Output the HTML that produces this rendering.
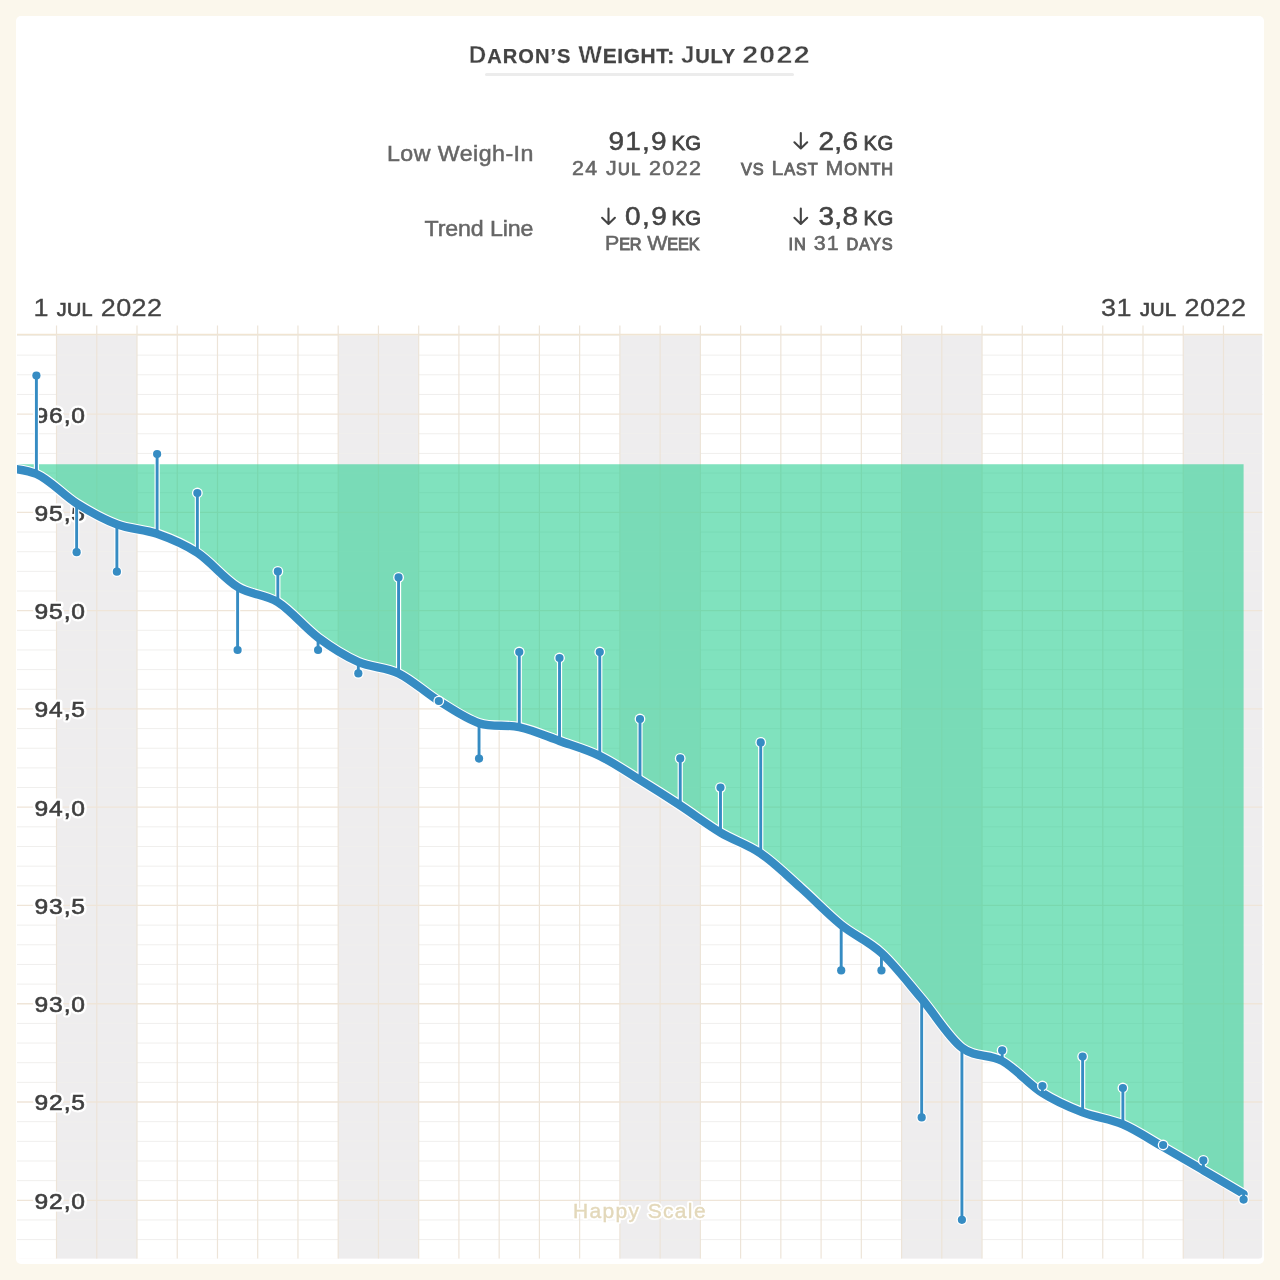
<!DOCTYPE html>
<html lang="en">
<head>
<meta charset="utf-8">
<title>Daron's Weight: July 2022</title>
<style>
html,body{margin:0;padding:0;}
body{width:1280px;height:1280px;background:#fbf7ec;position:relative;overflow:hidden;font-family:"Liberation Sans",sans-serif;color:#444;}
.card{position:absolute;left:16px;top:16px;width:1248px;height:1248px;background:#fff;border-radius:5px;}
svg{position:absolute;left:0;top:0;will-change:transform;}
.uline{position:absolute;left:485px;top:72.5px;width:309px;height:3px;background:#ececec;border-radius:2px;}
</style>
</head>
<body>
<div class="card"></div>

<div class="uline"></div>

<svg width="1280" height="1280" viewBox="0 0 1280 1280" font-family="'Liberation Sans', sans-serif">
<defs><clipPath id="cc"><rect x="17" y="320" width="1245.5" height="938.8" rx="4"/></clipPath></defs>
<g clip-path="url(#cc)">
<rect x="56.52" y="334.50" width="80.48" height="924.30" fill="#eeedee"/>
<rect x="338.20" y="334.50" width="80.48" height="924.30" fill="#eeedee"/>
<rect x="619.88" y="334.50" width="80.48" height="924.30" fill="#eeedee"/>
<rect x="901.56" y="334.50" width="80.48" height="924.30" fill="#eeedee"/>
<rect x="1183.24" y="334.50" width="79.26" height="924.30" fill="#eeedee"/>
<line x1="17.00" x2="1262.50" y1="335.48" y2="335.48" stroke="#f0efed" stroke-width="1"/>
<line x1="17.00" x2="1262.50" y1="355.14" y2="355.14" stroke="#f0efed" stroke-width="1"/>
<line x1="17.00" x2="1262.50" y1="374.79" y2="374.79" stroke="#f0efed" stroke-width="1"/>
<line x1="17.00" x2="1262.50" y1="394.45" y2="394.45" stroke="#f0efed" stroke-width="1"/>
<line x1="17.00" x2="1262.50" y1="414.10" y2="414.10" stroke="#efe5d8" stroke-width="1.3"/>
<line x1="17.00" x2="1262.50" y1="433.75" y2="433.75" stroke="#f0efed" stroke-width="1"/>
<line x1="17.00" x2="1262.50" y1="453.41" y2="453.41" stroke="#f0efed" stroke-width="1"/>
<line x1="17.00" x2="1262.50" y1="473.06" y2="473.06" stroke="#f0efed" stroke-width="1"/>
<line x1="17.00" x2="1262.50" y1="492.72" y2="492.72" stroke="#f0efed" stroke-width="1"/>
<line x1="17.00" x2="1262.50" y1="512.37" y2="512.37" stroke="#efe5d8" stroke-width="1.3"/>
<line x1="17.00" x2="1262.50" y1="532.03" y2="532.03" stroke="#f0efed" stroke-width="1"/>
<line x1="17.00" x2="1262.50" y1="551.69" y2="551.69" stroke="#f0efed" stroke-width="1"/>
<line x1="17.00" x2="1262.50" y1="571.34" y2="571.34" stroke="#f0efed" stroke-width="1"/>
<line x1="17.00" x2="1262.50" y1="591.00" y2="591.00" stroke="#f0efed" stroke-width="1"/>
<line x1="17.00" x2="1262.50" y1="610.65" y2="610.65" stroke="#efe5d8" stroke-width="1.3"/>
<line x1="17.00" x2="1262.50" y1="630.30" y2="630.30" stroke="#f0efed" stroke-width="1"/>
<line x1="17.00" x2="1262.50" y1="649.96" y2="649.96" stroke="#f0efed" stroke-width="1"/>
<line x1="17.00" x2="1262.50" y1="669.61" y2="669.61" stroke="#f0efed" stroke-width="1"/>
<line x1="17.00" x2="1262.50" y1="689.27" y2="689.27" stroke="#f0efed" stroke-width="1"/>
<line x1="17.00" x2="1262.50" y1="708.92" y2="708.92" stroke="#efe5d8" stroke-width="1.3"/>
<line x1="17.00" x2="1262.50" y1="728.58" y2="728.58" stroke="#f0efed" stroke-width="1"/>
<line x1="17.00" x2="1262.50" y1="748.24" y2="748.24" stroke="#f0efed" stroke-width="1"/>
<line x1="17.00" x2="1262.50" y1="767.89" y2="767.89" stroke="#f0efed" stroke-width="1"/>
<line x1="17.00" x2="1262.50" y1="787.55" y2="787.55" stroke="#f0efed" stroke-width="1"/>
<line x1="17.00" x2="1262.50" y1="807.20" y2="807.20" stroke="#efe5d8" stroke-width="1.3"/>
<line x1="17.00" x2="1262.50" y1="826.85" y2="826.85" stroke="#f0efed" stroke-width="1"/>
<line x1="17.00" x2="1262.50" y1="846.51" y2="846.51" stroke="#f0efed" stroke-width="1"/>
<line x1="17.00" x2="1262.50" y1="866.16" y2="866.16" stroke="#f0efed" stroke-width="1"/>
<line x1="17.00" x2="1262.50" y1="885.82" y2="885.82" stroke="#f0efed" stroke-width="1"/>
<line x1="17.00" x2="1262.50" y1="905.47" y2="905.47" stroke="#efe5d8" stroke-width="1.3"/>
<line x1="17.00" x2="1262.50" y1="925.13" y2="925.13" stroke="#f0efed" stroke-width="1"/>
<line x1="17.00" x2="1262.50" y1="944.79" y2="944.79" stroke="#f0efed" stroke-width="1"/>
<line x1="17.00" x2="1262.50" y1="964.44" y2="964.44" stroke="#f0efed" stroke-width="1"/>
<line x1="17.00" x2="1262.50" y1="984.10" y2="984.10" stroke="#f0efed" stroke-width="1"/>
<line x1="17.00" x2="1262.50" y1="1003.75" y2="1003.75" stroke="#efe5d8" stroke-width="1.3"/>
<line x1="17.00" x2="1262.50" y1="1023.40" y2="1023.40" stroke="#f0efed" stroke-width="1"/>
<line x1="17.00" x2="1262.50" y1="1043.06" y2="1043.06" stroke="#f0efed" stroke-width="1"/>
<line x1="17.00" x2="1262.50" y1="1062.71" y2="1062.71" stroke="#f0efed" stroke-width="1"/>
<line x1="17.00" x2="1262.50" y1="1082.37" y2="1082.37" stroke="#f0efed" stroke-width="1"/>
<line x1="17.00" x2="1262.50" y1="1102.02" y2="1102.02" stroke="#efe5d8" stroke-width="1.3"/>
<line x1="17.00" x2="1262.50" y1="1121.68" y2="1121.68" stroke="#f0efed" stroke-width="1"/>
<line x1="17.00" x2="1262.50" y1="1141.34" y2="1141.34" stroke="#f0efed" stroke-width="1"/>
<line x1="17.00" x2="1262.50" y1="1160.99" y2="1160.99" stroke="#f0efed" stroke-width="1"/>
<line x1="17.00" x2="1262.50" y1="1180.65" y2="1180.65" stroke="#f0efed" stroke-width="1"/>
<line x1="17.00" x2="1262.50" y1="1200.30" y2="1200.30" stroke="#efe5d8" stroke-width="1.3"/>
<line x1="17.00" x2="1262.50" y1="1219.95" y2="1219.95" stroke="#f0efed" stroke-width="1"/>
<line x1="17.00" x2="1262.50" y1="1239.61" y2="1239.61" stroke="#f0efed" stroke-width="1"/>
<line x1="17.00" x2="1262.50" y1="1259.26" y2="1259.26" stroke="#f0efed" stroke-width="1"/>
<line x1="17.00" x2="1262.50" y1="334.50" y2="334.50" stroke="#f1e5d2" stroke-width="1.4"/>
<line x1="56.52" x2="56.52" y1="325.50" y2="1258.80" stroke="#ede4d8" stroke-width="1.2"/>
<line x1="96.76" x2="96.76" y1="325.50" y2="1258.80" stroke="#ede4d8" stroke-width="1.2"/>
<line x1="137.00" x2="137.00" y1="325.50" y2="1258.80" stroke="#ede4d8" stroke-width="1.2"/>
<line x1="177.24" x2="177.24" y1="325.50" y2="1258.80" stroke="#ede4d8" stroke-width="1.2"/>
<line x1="217.48" x2="217.48" y1="325.50" y2="1258.80" stroke="#ede4d8" stroke-width="1.2"/>
<line x1="257.72" x2="257.72" y1="325.50" y2="1258.80" stroke="#ede4d8" stroke-width="1.2"/>
<line x1="297.96" x2="297.96" y1="325.50" y2="1258.80" stroke="#ede4d8" stroke-width="1.2"/>
<line x1="338.20" x2="338.20" y1="325.50" y2="1258.80" stroke="#ede4d8" stroke-width="1.2"/>
<line x1="378.44" x2="378.44" y1="325.50" y2="1258.80" stroke="#ede4d8" stroke-width="1.2"/>
<line x1="418.68" x2="418.68" y1="325.50" y2="1258.80" stroke="#ede4d8" stroke-width="1.2"/>
<line x1="458.92" x2="458.92" y1="325.50" y2="1258.80" stroke="#ede4d8" stroke-width="1.2"/>
<line x1="499.16" x2="499.16" y1="325.50" y2="1258.80" stroke="#ede4d8" stroke-width="1.2"/>
<line x1="539.40" x2="539.40" y1="325.50" y2="1258.80" stroke="#ede4d8" stroke-width="1.2"/>
<line x1="579.64" x2="579.64" y1="325.50" y2="1258.80" stroke="#ede4d8" stroke-width="1.2"/>
<line x1="619.88" x2="619.88" y1="325.50" y2="1258.80" stroke="#ede4d8" stroke-width="1.2"/>
<line x1="660.12" x2="660.12" y1="325.50" y2="1258.80" stroke="#ede4d8" stroke-width="1.2"/>
<line x1="700.36" x2="700.36" y1="325.50" y2="1258.80" stroke="#ede4d8" stroke-width="1.2"/>
<line x1="740.60" x2="740.60" y1="325.50" y2="1258.80" stroke="#ede4d8" stroke-width="1.2"/>
<line x1="780.84" x2="780.84" y1="325.50" y2="1258.80" stroke="#ede4d8" stroke-width="1.2"/>
<line x1="821.08" x2="821.08" y1="325.50" y2="1258.80" stroke="#ede4d8" stroke-width="1.2"/>
<line x1="861.32" x2="861.32" y1="325.50" y2="1258.80" stroke="#ede4d8" stroke-width="1.2"/>
<line x1="901.56" x2="901.56" y1="325.50" y2="1258.80" stroke="#ede4d8" stroke-width="1.2"/>
<line x1="941.80" x2="941.80" y1="325.50" y2="1258.80" stroke="#ede4d8" stroke-width="1.2"/>
<line x1="982.04" x2="982.04" y1="325.50" y2="1258.80" stroke="#ede4d8" stroke-width="1.2"/>
<line x1="1022.28" x2="1022.28" y1="325.50" y2="1258.80" stroke="#ede4d8" stroke-width="1.2"/>
<line x1="1062.52" x2="1062.52" y1="325.50" y2="1258.80" stroke="#ede4d8" stroke-width="1.2"/>
<line x1="1102.76" x2="1102.76" y1="325.50" y2="1258.80" stroke="#ede4d8" stroke-width="1.2"/>
<line x1="1143.00" x2="1143.00" y1="325.50" y2="1258.80" stroke="#ede4d8" stroke-width="1.2"/>
<line x1="1183.24" x2="1183.24" y1="325.50" y2="1258.80" stroke="#ede4d8" stroke-width="1.2"/>
<line x1="1223.48" x2="1223.48" y1="325.50" y2="1258.80" stroke="#ede4d8" stroke-width="1.2"/>
</g>
<g id="labels">
<text class="h" transform="translate(573.00 1218.30) scale(1.040 1)" font-size="20.20" letter-spacing="1.30" fill="#fff" stroke="#fff" stroke-width="4" stroke-linejoin="round">Happy Scale</text>
<text id="wm" transform="translate(573.00 1218.30) scale(1.040 1)" font-size="20.20" letter-spacing="1.30" stroke="#e3d8ba" stroke-width="0.4" fill="#e3d8ba">Happy Scale</text>
<text class="h" transform="translate(34.60 422.50) scale(1.120 1)" font-size="22.00" letter-spacing="0.73" fill="#fff" stroke="#fff" stroke-width="5" stroke-linejoin="round">96,0</text>
<text id="y0" transform="translate(34.60 422.50) scale(1.120 1)" font-size="22.00" letter-spacing="0.73" stroke="#3f3f3f" stroke-width="0.6" fill="#3f3f3f">96,0</text>
<text class="h" transform="translate(34.60 520.77) scale(1.120 1)" font-size="22.00" letter-spacing="0.73" fill="#fff" stroke="#fff" stroke-width="5" stroke-linejoin="round">95,5</text>
<text id="y1" transform="translate(34.60 520.77) scale(1.120 1)" font-size="22.00" letter-spacing="0.73" stroke="#3f3f3f" stroke-width="0.6" fill="#3f3f3f">95,5</text>
<text class="h" transform="translate(34.60 619.05) scale(1.120 1)" font-size="22.00" letter-spacing="0.73" fill="#fff" stroke="#fff" stroke-width="5" stroke-linejoin="round">95,0</text>
<text id="y2" transform="translate(34.60 619.05) scale(1.120 1)" font-size="22.00" letter-spacing="0.73" stroke="#3f3f3f" stroke-width="0.6" fill="#3f3f3f">95,0</text>
<text class="h" transform="translate(34.60 717.32) scale(1.120 1)" font-size="22.00" letter-spacing="0.73" fill="#fff" stroke="#fff" stroke-width="5" stroke-linejoin="round">94,5</text>
<text id="y3" transform="translate(34.60 717.32) scale(1.120 1)" font-size="22.00" letter-spacing="0.73" stroke="#3f3f3f" stroke-width="0.6" fill="#3f3f3f">94,5</text>
<text class="h" transform="translate(34.60 815.60) scale(1.120 1)" font-size="22.00" letter-spacing="0.73" fill="#fff" stroke="#fff" stroke-width="5" stroke-linejoin="round">94,0</text>
<text id="y4" transform="translate(34.60 815.60) scale(1.120 1)" font-size="22.00" letter-spacing="0.73" stroke="#3f3f3f" stroke-width="0.6" fill="#3f3f3f">94,0</text>
<text class="h" transform="translate(34.60 913.87) scale(1.120 1)" font-size="22.00" letter-spacing="0.73" fill="#fff" stroke="#fff" stroke-width="5" stroke-linejoin="round">93,5</text>
<text id="y5" transform="translate(34.60 913.87) scale(1.120 1)" font-size="22.00" letter-spacing="0.73" stroke="#3f3f3f" stroke-width="0.6" fill="#3f3f3f">93,5</text>
<text class="h" transform="translate(34.60 1012.15) scale(1.120 1)" font-size="22.00" letter-spacing="0.73" fill="#fff" stroke="#fff" stroke-width="5" stroke-linejoin="round">93,0</text>
<text id="y6" transform="translate(34.60 1012.15) scale(1.120 1)" font-size="22.00" letter-spacing="0.73" stroke="#3f3f3f" stroke-width="0.6" fill="#3f3f3f">93,0</text>
<text class="h" transform="translate(34.60 1110.42) scale(1.120 1)" font-size="22.00" letter-spacing="0.73" fill="#fff" stroke="#fff" stroke-width="5" stroke-linejoin="round">92,5</text>
<text id="y7" transform="translate(34.60 1110.42) scale(1.120 1)" font-size="22.00" letter-spacing="0.73" stroke="#3f3f3f" stroke-width="0.6" fill="#3f3f3f">92,5</text>
<text class="h" transform="translate(34.60 1208.70) scale(1.120 1)" font-size="22.00" letter-spacing="0.73" fill="#fff" stroke="#fff" stroke-width="5" stroke-linejoin="round">92,0</text>
<text id="y8" transform="translate(34.60 1208.70) scale(1.120 1)" font-size="22.00" letter-spacing="0.73" stroke="#3f3f3f" stroke-width="0.6" fill="#3f3f3f">92,0</text>
</g>
<g id="hdr">
<text id="t1" transform="translate(468.80 63.30) scale(1.000 1)" font-size="24.20" letter-spacing="1.02" font-weight="bold" stroke="#fff" stroke-width="0.35" fill="#444">D<tspan font-size="0.830em" stroke="#444" stroke-width="0.25">ARON’S</tspan></text>
<text id="t2" transform="translate(578.30 63.30) scale(1.040 1)" font-size="24.20" letter-spacing="0.61" font-weight="bold" stroke="#fff" stroke-width="0.35" fill="#444">W<tspan font-size="0.830em" stroke="#444" stroke-width="0.25">EIGHT:</tspan></text>
<text id="t3" transform="translate(681.10 63.30) scale(1.000 1)" font-size="24.20" letter-spacing="0.73" font-weight="bold" stroke="#fff" stroke-width="0.35" fill="#444">J<tspan font-size="0.830em" stroke="#444" stroke-width="0.25">ULY</tspan></text>
<text id="t4" transform="translate(742.20 63.30) scale(1.180 1)" font-size="24.20" letter-spacing="1.10" font-weight="bold" stroke="#fff" stroke-width="0.35" fill="#444">2022</text>
<text id="low" transform="translate(387.00 160.90) scale(1.040 1)" font-size="22.30" letter-spacing="0.44" stroke="#666" stroke-width="0.5" fill="#666">Low Weigh-In</text>
<text id="trend" transform="translate(424.50 235.90) scale(1.040 1)" font-size="22.30" letter-spacing="-0.11" stroke="#666" stroke-width="0.5" fill="#666">Trend Line</text>
<text id="v1a" transform="translate(608.50 149.80) scale(1.120 1)" font-size="25.00" letter-spacing="1.07" stroke="#444" stroke-width="0.5" fill="#444">91,9</text>
<text id="v1ak" transform="translate(671.50 149.80) scale(1.035 1)" font-size="19.60" letter-spacing="0.10" stroke="#444" stroke-width="0.8" fill="#444">KG</text>
<text id="v1b" transform="translate(572.00 175.30) scale(1.030 1)" font-size="20.80" letter-spacing="1.36" stroke="#666" stroke-width="0.55" fill="#666">24 J<tspan font-size="0.760em" stroke-width="0.9">UL</tspan> 2022</text>
<text id="v1c" transform="translate(625.00 225.20) scale(1.120 1)" font-size="25.00" letter-spacing="1.34" stroke="#444" stroke-width="0.5" fill="#444">0,9</text>
<text id="v1ck" transform="translate(671.50 225.20) scale(1.035 1)" font-size="19.60" letter-spacing="0.10" stroke="#444" stroke-width="0.8" fill="#444">KG</text>
<text id="v1d" transform="translate(605.00 250.10) scale(1.030 1)" font-size="20.80" letter-spacing="-0.14" stroke="#666" stroke-width="0.55" fill="#666">P<tspan font-size="0.760em" stroke-width="0.9">ER</tspan> W<tspan font-size="0.760em" stroke-width="0.9">EEK</tspan></text>
<text id="v2a" transform="translate(818.50 149.80) scale(1.120 1)" font-size="25.00" letter-spacing="0.27" stroke="#444" stroke-width="0.5" fill="#444">2,6</text>
<text id="v2ak" transform="translate(863.40 149.80) scale(1.035 1)" font-size="19.60" letter-spacing="0.51" stroke="#444" stroke-width="0.8" fill="#444">KG</text>
<text id="v2b" transform="translate(741.00 175.30) scale(1.030 1)" font-size="20.80" letter-spacing="0.89" stroke="#666" stroke-width="0.55" fill="#666"><tspan font-size="0.760em" stroke-width="0.9">VS</tspan> L<tspan font-size="0.760em" stroke-width="0.9">AST</tspan> M<tspan font-size="0.760em" stroke-width="0.9">ONTH</tspan></text>
<text id="v2c" transform="translate(818.50 225.20) scale(1.120 1)" font-size="25.00" letter-spacing="0.27" stroke="#444" stroke-width="0.5" fill="#444">3,8</text>
<text id="v2ck" transform="translate(863.40 225.20) scale(1.035 1)" font-size="19.60" letter-spacing="0.51" stroke="#444" stroke-width="0.8" fill="#444">KG</text>
<text id="v2d" transform="translate(788.50 250.10) scale(1.030 1)" font-size="20.80" letter-spacing="0.97" stroke="#666" stroke-width="0.55" fill="#666"><tspan font-size="0.760em" stroke-width="0.9">IN</tspan> 31 <tspan font-size="0.760em" stroke-width="0.9">DAYS</tspan></text>
<text id="d1" transform="translate(33.40 315.80) scale(1.100 1)" font-size="24.50" letter-spacing="0.34" stroke="#444" stroke-width="0.3" fill="#444">1 <tspan font-size="0.735em" stroke-width="0.65">JUL</tspan> 2022</text>
<text id="d2" transform="translate(1101.00 315.80) scale(1.100 1)" font-size="24.50" letter-spacing="0.45" stroke="#444" stroke-width="0.3" fill="#444">31 <tspan font-size="0.735em" stroke-width="0.65">JUL</tspan> 2022</text>
</g>
<g id="arrows" fill="none" stroke="#444" stroke-width="2.1" stroke-linecap="round" stroke-linejoin="round">
<path d="M800.80 133.00V148.30M794.40 142.30L800.80 148.40L807.20 142.30"/>
<path d="M800.80 208.50V223.80M794.40 217.80L800.80 223.90L807.20 217.80"/>
<path d="M608.50 208.50V223.80M602.10 217.80L608.50 223.90L614.90 217.80"/>
</g>
<g id="data" clip-path="url(#cc)">
<path d="M-7.84 466.50 C-0.47 467.75 22.32 467.83 36.40 474.00 C50.48 480.17 63.23 495.10 76.64 503.50 C90.05 511.90 103.47 519.35 116.88 524.40 C130.29 529.45 143.71 529.07 157.12 533.80 C170.53 538.53 183.95 543.93 197.36 552.80 C210.77 561.67 224.19 578.75 237.60 587.00 C251.01 595.25 264.43 593.87 277.84 602.30 C291.25 610.73 304.67 627.65 318.08 637.60 C331.49 647.55 344.91 656.03 358.32 662.00 C371.73 667.97 385.15 666.90 398.56 673.40 C411.97 679.90 425.39 692.70 438.80 701.00 C452.21 709.30 465.63 718.83 479.04 723.20 C492.45 727.57 505.87 724.23 519.28 727.20 C532.69 730.17 546.11 736.20 559.52 741.00 C572.93 745.80 586.35 749.50 599.76 756.00 C613.17 762.50 626.59 771.75 640.00 780.00 C653.41 788.25 666.83 796.73 680.24 805.50 C693.65 814.27 707.07 824.60 720.48 832.60 C733.89 840.60 747.31 844.27 760.72 853.50 C774.13 862.73 787.55 876.08 800.96 888.00 C814.37 899.92 827.79 914.17 841.20 925.00 C854.61 935.83 868.03 940.70 881.44 953.00 C894.85 965.30 908.27 983.00 921.68 998.80 C935.09 1014.60 948.51 1037.43 961.92 1047.80 C975.33 1058.17 988.75 1053.47 1002.16 1061.00 C1015.57 1068.53 1028.99 1084.42 1042.40 1093.00 C1055.81 1101.58 1069.23 1107.27 1082.64 1112.50 C1096.05 1117.73 1109.47 1118.65 1122.88 1124.40 C1136.29 1130.15 1149.71 1139.35 1163.12 1147.00 C1176.53 1154.65 1189.95 1162.47 1203.36 1170.30 C1216.77 1178.13 1236.89 1190.05 1243.60 1194.00 L1243.60 464.30 L-7.84 464.30 Z" fill="#2bce92" fill-opacity="0.6"/>
<path d="M-7.84 466.50 C-0.47 467.75 22.32 467.83 36.40 474.00 C50.48 480.17 63.23 495.10 76.64 503.50 C90.05 511.90 103.47 519.35 116.88 524.40 C130.29 529.45 143.71 529.07 157.12 533.80 C170.53 538.53 183.95 543.93 197.36 552.80 C210.77 561.67 224.19 578.75 237.60 587.00 C251.01 595.25 264.43 593.87 277.84 602.30 C291.25 610.73 304.67 627.65 318.08 637.60 C331.49 647.55 344.91 656.03 358.32 662.00 C371.73 667.97 385.15 666.90 398.56 673.40 C411.97 679.90 425.39 692.70 438.80 701.00 C452.21 709.30 465.63 718.83 479.04 723.20 C492.45 727.57 505.87 724.23 519.28 727.20 C532.69 730.17 546.11 736.20 559.52 741.00 C572.93 745.80 586.35 749.50 599.76 756.00 C613.17 762.50 626.59 771.75 640.00 780.00 C653.41 788.25 666.83 796.73 680.24 805.50 C693.65 814.27 707.07 824.60 720.48 832.60 C733.89 840.60 747.31 844.27 760.72 853.50 C774.13 862.73 787.55 876.08 800.96 888.00 C814.37 899.92 827.79 914.17 841.20 925.00 C854.61 935.83 868.03 940.70 881.44 953.00 C894.85 965.30 908.27 983.00 921.68 998.80 C935.09 1014.60 948.51 1037.43 961.92 1047.80 C975.33 1058.17 988.75 1053.47 1002.16 1061.00 C1015.57 1068.53 1028.99 1084.42 1042.40 1093.00 C1055.81 1101.58 1069.23 1107.27 1082.64 1112.50 C1096.05 1117.73 1109.47 1118.65 1122.88 1124.40 C1136.29 1130.15 1149.71 1139.35 1163.12 1147.00 C1176.53 1154.65 1189.95 1162.47 1203.36 1170.30 C1216.77 1178.13 1236.89 1190.05 1243.60 1194.00" fill="none" stroke="#fff" stroke-width="10.5" stroke-linecap="round" stroke-linejoin="round"/>
<g stroke="#fff" stroke-width="5.2">
<line x1="36.40" x2="36.40" y1="375.50" y2="474.00"/>
<line x1="76.64" x2="76.64" y1="552.20" y2="503.50"/>
<line x1="116.88" x2="116.88" y1="571.70" y2="524.40"/>
<line x1="157.12" x2="157.12" y1="454.00" y2="533.80"/>
<line x1="197.36" x2="197.36" y1="493.00" y2="552.80"/>
<line x1="237.60" x2="237.60" y1="650.00" y2="587.00"/>
<line x1="277.84" x2="277.84" y1="571.40" y2="602.30"/>
<line x1="318.08" x2="318.08" y1="650.00" y2="637.60"/>
<line x1="358.32" x2="358.32" y1="673.40" y2="662.00"/>
<line x1="398.56" x2="398.56" y1="577.40" y2="673.40"/>
<line x1="479.04" x2="479.04" y1="758.60" y2="723.20"/>
<line x1="519.28" x2="519.28" y1="652.00" y2="727.20"/>
<line x1="559.52" x2="559.52" y1="658.00" y2="741.00"/>
<line x1="599.76" x2="599.76" y1="652.00" y2="756.00"/>
<line x1="640.00" x2="640.00" y1="719.00" y2="780.00"/>
<line x1="680.24" x2="680.24" y1="758.40" y2="805.50"/>
<line x1="720.48" x2="720.48" y1="787.60" y2="832.60"/>
<line x1="760.72" x2="760.72" y1="742.40" y2="853.50"/>
<line x1="841.20" x2="841.20" y1="970.40" y2="925.00"/>
<line x1="881.44" x2="881.44" y1="970.40" y2="953.00"/>
<line x1="921.68" x2="921.68" y1="1117.40" y2="998.80"/>
<line x1="961.92" x2="961.92" y1="1219.80" y2="1047.80"/>
<line x1="1002.16" x2="1002.16" y1="1050.40" y2="1061.00"/>
<line x1="1042.40" x2="1042.40" y1="1086.00" y2="1093.00"/>
<line x1="1082.64" x2="1082.64" y1="1056.60" y2="1112.50"/>
<line x1="1122.88" x2="1122.88" y1="1088.00" y2="1124.40"/>
<line x1="1203.36" x2="1203.36" y1="1160.40" y2="1170.30"/>
<line x1="1243.60" x2="1243.60" y1="1199.60" y2="1194.00"/>
</g>
<path d="M-7.84 466.50 C-0.47 467.75 22.32 467.83 36.40 474.00 C50.48 480.17 63.23 495.10 76.64 503.50 C90.05 511.90 103.47 519.35 116.88 524.40 C130.29 529.45 143.71 529.07 157.12 533.80 C170.53 538.53 183.95 543.93 197.36 552.80 C210.77 561.67 224.19 578.75 237.60 587.00 C251.01 595.25 264.43 593.87 277.84 602.30 C291.25 610.73 304.67 627.65 318.08 637.60 C331.49 647.55 344.91 656.03 358.32 662.00 C371.73 667.97 385.15 666.90 398.56 673.40 C411.97 679.90 425.39 692.70 438.80 701.00 C452.21 709.30 465.63 718.83 479.04 723.20 C492.45 727.57 505.87 724.23 519.28 727.20 C532.69 730.17 546.11 736.20 559.52 741.00 C572.93 745.80 586.35 749.50 599.76 756.00 C613.17 762.50 626.59 771.75 640.00 780.00 C653.41 788.25 666.83 796.73 680.24 805.50 C693.65 814.27 707.07 824.60 720.48 832.60 C733.89 840.60 747.31 844.27 760.72 853.50 C774.13 862.73 787.55 876.08 800.96 888.00 C814.37 899.92 827.79 914.17 841.20 925.00 C854.61 935.83 868.03 940.70 881.44 953.00 C894.85 965.30 908.27 983.00 921.68 998.80 C935.09 1014.60 948.51 1037.43 961.92 1047.80 C975.33 1058.17 988.75 1053.47 1002.16 1061.00 C1015.57 1068.53 1028.99 1084.42 1042.40 1093.00 C1055.81 1101.58 1069.23 1107.27 1082.64 1112.50 C1096.05 1117.73 1109.47 1118.65 1122.88 1124.40 C1136.29 1130.15 1149.71 1139.35 1163.12 1147.00 C1176.53 1154.65 1189.95 1162.47 1203.36 1170.30 C1216.77 1178.13 1236.89 1190.05 1243.60 1194.00" fill="none" stroke="#368cc3" stroke-width="8.3" stroke-linecap="round" stroke-linejoin="round"/>
<g fill="#fff">
<circle cx="36.40" cy="375.50" r="5.4"/>
<circle cx="76.64" cy="552.20" r="5.4"/>
<circle cx="116.88" cy="571.70" r="5.4"/>
<circle cx="157.12" cy="454.00" r="5.4"/>
<circle cx="197.36" cy="493.00" r="5.4"/>
<circle cx="237.60" cy="650.00" r="5.4"/>
<circle cx="277.84" cy="571.40" r="5.4"/>
<circle cx="318.08" cy="650.00" r="5.4"/>
<circle cx="358.32" cy="673.40" r="5.4"/>
<circle cx="398.56" cy="577.40" r="5.4"/>
<circle cx="438.80" cy="701.00" r="5.4"/>
<circle cx="479.04" cy="758.60" r="5.4"/>
<circle cx="519.28" cy="652.00" r="5.4"/>
<circle cx="559.52" cy="658.00" r="5.4"/>
<circle cx="599.76" cy="652.00" r="5.4"/>
<circle cx="640.00" cy="719.00" r="5.4"/>
<circle cx="680.24" cy="758.40" r="5.4"/>
<circle cx="720.48" cy="787.60" r="5.4"/>
<circle cx="760.72" cy="742.40" r="5.4"/>
<circle cx="841.20" cy="970.40" r="5.4"/>
<circle cx="881.44" cy="970.40" r="5.4"/>
<circle cx="921.68" cy="1117.40" r="5.4"/>
<circle cx="961.92" cy="1219.80" r="5.4"/>
<circle cx="1002.16" cy="1050.40" r="5.4"/>
<circle cx="1042.40" cy="1086.00" r="5.4"/>
<circle cx="1082.64" cy="1056.60" r="5.4"/>
<circle cx="1122.88" cy="1088.00" r="5.4"/>
<circle cx="1163.12" cy="1145.00" r="5.4"/>
<circle cx="1203.36" cy="1160.40" r="5.4"/>
<circle cx="1243.60" cy="1199.60" r="5.4"/>
</g>
<g stroke="#368cc3" stroke-width="2.9">
<line x1="36.40" x2="36.40" y1="375.50" y2="474.00"/>
<line x1="76.64" x2="76.64" y1="552.20" y2="503.50"/>
<line x1="116.88" x2="116.88" y1="571.70" y2="524.40"/>
<line x1="157.12" x2="157.12" y1="454.00" y2="533.80"/>
<line x1="197.36" x2="197.36" y1="493.00" y2="552.80"/>
<line x1="237.60" x2="237.60" y1="650.00" y2="587.00"/>
<line x1="277.84" x2="277.84" y1="571.40" y2="602.30"/>
<line x1="318.08" x2="318.08" y1="650.00" y2="637.60"/>
<line x1="358.32" x2="358.32" y1="673.40" y2="662.00"/>
<line x1="398.56" x2="398.56" y1="577.40" y2="673.40"/>
<line x1="479.04" x2="479.04" y1="758.60" y2="723.20"/>
<line x1="519.28" x2="519.28" y1="652.00" y2="727.20"/>
<line x1="559.52" x2="559.52" y1="658.00" y2="741.00"/>
<line x1="599.76" x2="599.76" y1="652.00" y2="756.00"/>
<line x1="640.00" x2="640.00" y1="719.00" y2="780.00"/>
<line x1="680.24" x2="680.24" y1="758.40" y2="805.50"/>
<line x1="720.48" x2="720.48" y1="787.60" y2="832.60"/>
<line x1="760.72" x2="760.72" y1="742.40" y2="853.50"/>
<line x1="841.20" x2="841.20" y1="970.40" y2="925.00"/>
<line x1="881.44" x2="881.44" y1="970.40" y2="953.00"/>
<line x1="921.68" x2="921.68" y1="1117.40" y2="998.80"/>
<line x1="961.92" x2="961.92" y1="1219.80" y2="1047.80"/>
<line x1="1002.16" x2="1002.16" y1="1050.40" y2="1061.00"/>
<line x1="1042.40" x2="1042.40" y1="1086.00" y2="1093.00"/>
<line x1="1082.64" x2="1082.64" y1="1056.60" y2="1112.50"/>
<line x1="1122.88" x2="1122.88" y1="1088.00" y2="1124.40"/>
<line x1="1203.36" x2="1203.36" y1="1160.40" y2="1170.30"/>
<line x1="1243.60" x2="1243.60" y1="1199.60" y2="1194.00"/>
</g>
<g fill="#368cc3">
<circle cx="36.40" cy="375.50" r="4.1"/>
<circle cx="76.64" cy="552.20" r="4.1"/>
<circle cx="116.88" cy="571.70" r="4.1"/>
<circle cx="157.12" cy="454.00" r="4.1"/>
<circle cx="197.36" cy="493.00" r="4.1"/>
<circle cx="237.60" cy="650.00" r="4.1"/>
<circle cx="277.84" cy="571.40" r="4.1"/>
<circle cx="318.08" cy="650.00" r="4.1"/>
<circle cx="358.32" cy="673.40" r="4.1"/>
<circle cx="398.56" cy="577.40" r="4.1"/>
<circle cx="438.80" cy="701.00" r="4.1"/>
<circle cx="479.04" cy="758.60" r="4.1"/>
<circle cx="519.28" cy="652.00" r="4.1"/>
<circle cx="559.52" cy="658.00" r="4.1"/>
<circle cx="599.76" cy="652.00" r="4.1"/>
<circle cx="640.00" cy="719.00" r="4.1"/>
<circle cx="680.24" cy="758.40" r="4.1"/>
<circle cx="720.48" cy="787.60" r="4.1"/>
<circle cx="760.72" cy="742.40" r="4.1"/>
<circle cx="841.20" cy="970.40" r="4.1"/>
<circle cx="881.44" cy="970.40" r="4.1"/>
<circle cx="921.68" cy="1117.40" r="4.1"/>
<circle cx="961.92" cy="1219.80" r="4.1"/>
<circle cx="1002.16" cy="1050.40" r="4.1"/>
<circle cx="1042.40" cy="1086.00" r="4.1"/>
<circle cx="1082.64" cy="1056.60" r="4.1"/>
<circle cx="1122.88" cy="1088.00" r="4.1"/>
<circle cx="1163.12" cy="1145.00" r="4.1"/>
<circle cx="1203.36" cy="1160.40" r="4.1"/>
<circle cx="1243.60" cy="1199.60" r="4.1"/>
</g>
</g>
</svg>
</body>
</html>
